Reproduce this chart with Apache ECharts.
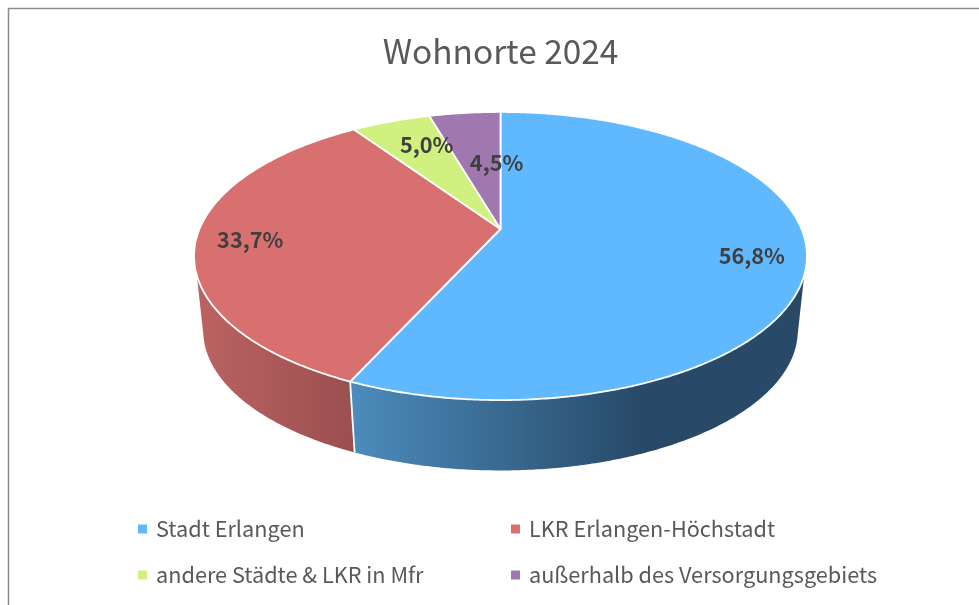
<!DOCTYPE html>
<html>
<head>
<meta charset="utf-8">
<script src="https://cdn.jsdelivr.net/npm/echarts@6/dist/echarts.min.js"></script>
<style>html,body{margin:0;padding:0;background:#fff}#c{width:979px;height:605px}</style>
</head>
<body>
<div id="c"></div>
<script>
const chartTitle = 'Wohnorte 2024';
const categories = ['Stadt Erlangen', 'LKR Erlangen-Höchstadt', 'andere Städte & LKR in Mfr', 'außerhalb des Versorgungsgebiets'];
const shareValues = [56.8, 33.7, 5.0, 4.5];

const topColors = ['#60b8ff', '#d87070', '#d0f080', '#a078b0'];
const wallStops = [
  [{x: 350, c: '#4c8cbd'}, {x: 640, c: '#284a68'}],
  [{x: 196, c: '#bb6362'}, {x: 354, c: '#9b4f4f'}],
  null, null
];
// Label placement: radial fraction along the slice's middle, then a small pixel nudge
const labelPlace = [
  {f: 0.82, dx: 2, dy: 2},
  {f: 0.83, dx: 2, dy: 1},
  {f: 0.75, dx: 11.5, dy: -1},
  {f: 0.50, dx: 15.5, dy: -3}
];

// Perspective disc model
const CX = 500.5, TOP_CY = 229, R = 301, A = 139, K = 0.1875;
const BOTTOM_CY = 304.5, BOTTOM_SCALE = 0.97;
const WALL_TOP_FROM = 108.2, WALL_TOP_TO = 251.8;
const WALL_BOTTOM_FROM = 102.7, WALL_BOTTOM_TO = 257.3;

function topPoint(deg, f) {
  const t = deg * Math.PI / 180, r = f === undefined ? 1 : f;
  const w = 1 / (1 + K * r * Math.cos(t));
  return [CX + R * r * Math.sin(t) * w, TOP_CY - A * r * Math.cos(t) * w];
}
function bottomPoint(deg) {
  const t = deg * Math.PI / 180;
  const w = BOTTOM_SCALE / (1 + K * Math.cos(t));
  return [CX + R * Math.sin(t) * w, BOTTOM_CY - A * Math.cos(t) * w];
}
function arc(fn, a, b) {
  const pts = [], n = Math.max(2, Math.ceil(Math.abs(b - a) * 2));
  for (let i = 0; i <= n; i++) pts.push(fn(a + (b - a) * i / n));
  return pts;
}

const total = shareValues.reduce((s, v) => s + v, 0);

function renderSlice(index) {
  return function (params, api) {
    let before = 0;
    for (let i = 0; i < index; i++) before += shareValues[i];
    const value = api.value(0);
    const a = before / total * 360, b = (before + value) / total * 360;
    const children = [];

    const wa = Math.max(a, WALL_TOP_FROM), wb = Math.min(b, WALL_TOP_TO);
    if (wb > wa && wallStops[index]) {
      const ba = a <= WALL_TOP_FROM ? WALL_BOTTOM_FROM : a;
      const bb = b >= WALL_TOP_TO ? WALL_BOTTOM_TO : b;
      const s = wallStops[index];
      const x0 = s[0].x, x1 = s[1].x;
      children.push({
        type: 'polygon', z2: 1,
        shape: {points: arc(topPoint, wa, wb).concat(arc(bottomPoint, bb, ba))},
        style: {
          fill: {type: 'linear', x: x0, y: 0, x2: x1, y2: 0, global: true,
                 colorStops: [{offset: 0, color: s[0].c}, {offset: 1, color: s[1].c}]},
          stroke: null
        }
      });
      if (a > WALL_TOP_FROM && a < WALL_TOP_TO) {
        const p = topPoint(a), q = bottomPoint(a);
        children.push({
          type: 'line', z2: 3,
          shape: {x1: p[0], y1: p[1], x2: q[0], y2: q[1]},
          style: {stroke: '#ffffff', lineWidth: 1.8}
        });
      }
    }

    children.push({
      type: 'polygon', z2: 5,
      shape: {points: [topPoint(0, 0)].concat(arc(topPoint, a, b))},
      style: {fill: topColors[index], stroke: '#ffffff', lineWidth: 1.8, lineJoin: 'round'}
    });

    const pl = labelPlace[index];
    const lp = topPoint((a + b) / 2, pl.f);
    children.push({
      type: 'text', z2: 50,
      x: lp[0] + pl.dx, y: lp[1] + pl.dy,
      style: {
        text: value.toFixed(1).replace('.', ',') + '%',
        fill: '#404040',
        font: 'bold 21.7px "Noto Sans CJK SC"',
        align: 'center', verticalAlign: 'middle'
      }
    });
    return {type: 'group', children};
  };
}

const legendText = {color: '#595959', fontSize: 21.7, fontFamily: '"Noto Sans CJK SC"', padding: [0, 0, 0, 4], lineHeight: 24};
const legendBase = {orient: 'vertical', icon: 'rect', itemWidth: 9, itemHeight: 9, itemGap: 22, padding: 0, selectedMode: false, textStyle: legendText};

const chart = echarts.init(document.getElementById('c'), null, {renderer: 'canvas'});
chart.setOption({
  animation: false,
  backgroundColor: '#ffffff',
  title: {
    text: chartTitle, left: 500.5, top: 35, textAlign: 'center', padding: 0,
    textStyle: {color: '#595959', fontSize: 33.4, fontWeight: 'normal', fontFamily: '"Noto Sans CJK SC"'}
  },
  legend: [
    Object.assign({}, legendBase, {left: 138, top: 517, data: [categories[0], categories[2]]}),
    Object.assign({}, legendBase, {left: 511, top: 517, data: [categories[1], categories[3]]})
  ],
  graphic: [{
    type: 'polyline', silent: true,
    shape: {points: [[8.5, 605], [8.5, 8.5], [979, 8.5]]},
    style: {stroke: '#8c8c8c', lineWidth: 1.5, fill: null}
  }],
  series: categories.map((name, i) => ({
    type: 'custom',
    name,
    coordinateSystem: 'none',
    silent: true,
    itemStyle: {color: topColors[i]},
    renderItem: renderSlice(i),
    data: [[shareValues[i]]]
  }))
});
</script>
</body>
</html>
